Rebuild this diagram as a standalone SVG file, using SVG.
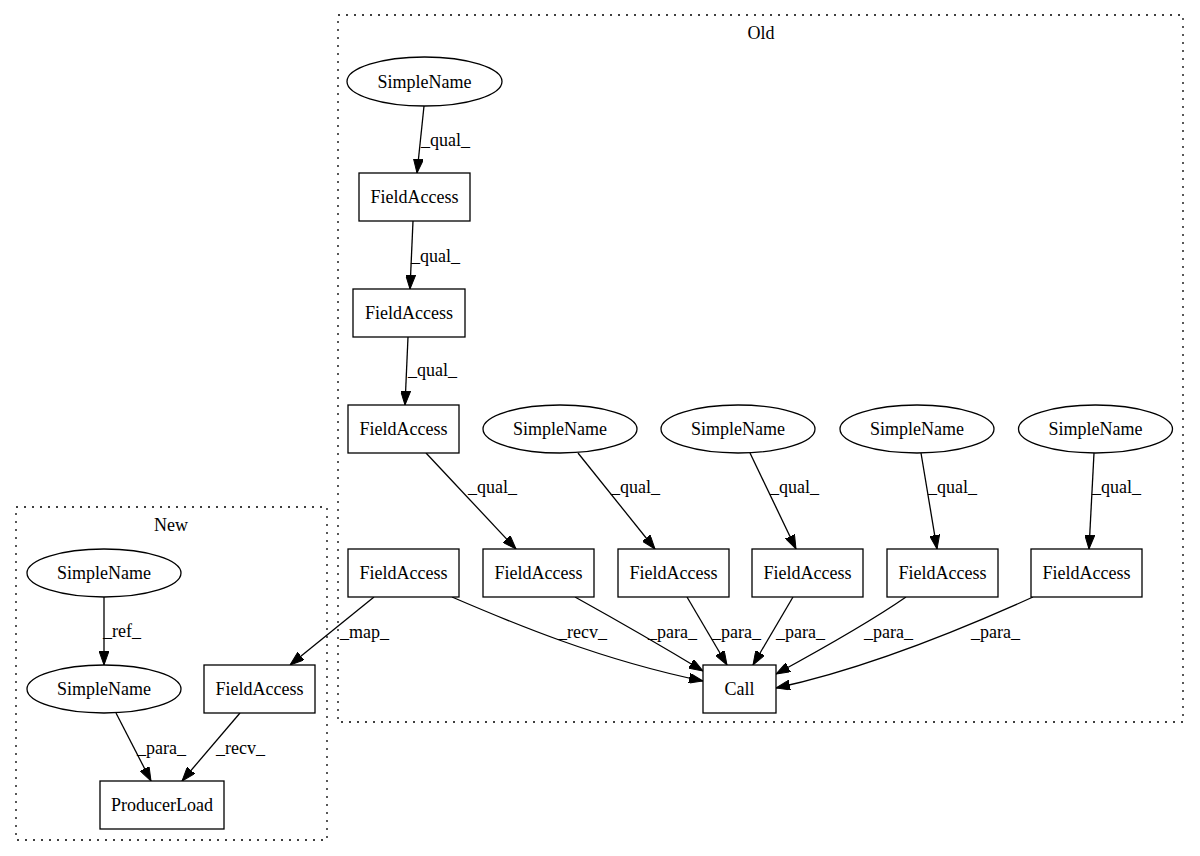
<svg xmlns="http://www.w3.org/2000/svg" width="1200" height="856" viewBox="0 0 1200 856">
<defs>
<marker id="ah" markerWidth="14" markerHeight="10" refX="14" refY="5" orient="auto" markerUnits="userSpaceOnUse">
<path d="M0,0 L14,5 L0,10 Z" fill="#000" stroke="#000"/>
</marker>
</defs>
<style>
text{font-family:"Liberation Serif","Times New Roman",serif;font-size:18px;fill:#000}
.n{text-anchor:middle}
.box{fill:#fff;stroke:#000;stroke-width:1.3}
.cl{fill:none;stroke:#000;stroke-width:1.3;stroke-dasharray:2,6}
.e{fill:none;stroke:#000;stroke-width:1.3;marker-end:url(#ah)}
</style>
<rect width="1200" height="856" fill="#fff"/>
<g id="cluster_old"><rect class="cl" x="338" y="15" width="845" height="707"/><text class="n" x="761" y="39">Old</text></g>
<g id="cluster_new"><rect class="cl" x="16" y="507" width="311" height="333"/><text class="n" x="171" y="531">New</text></g>
<g id="connectors">
<path class="e" d="M424,106 L417,173"/>
<path class="e" d="M413,221 L410,289"/>
<path class="e" d="M408,337 L405,405"/>
<path class="e" d="M426,453 L516,549"/>
<path class="e" d="M578,453 L655,549"/>
<path class="e" d="M750,453 L796,549"/>
<path class="e" d="M921,453 L937,549"/>
<path class="e" d="M1094,453 L1089,549"/>
<path class="e" d="M374,597 L290,665"/>
<path class="e" d="M452,597 C510,622 600,660 703,681"/>
<path class="e" d="M575,597 C620,622 665,648 703,671"/>
<path class="e" d="M687,597 L727,665"/>
<path class="e" d="M793,597 L753,665"/>
<path class="e" d="M906,597 C870,622 820,650 776,674"/>
<path class="e" d="M1033,597 C960,630 860,670 776,688"/>
<path class="e" d="M104,597 L104,665"/>
<path class="e" d="M116,713 L151,781"/>
<path class="e" d="M240,713 L182,781"/>
<text x="421" y="146">_qual_</text>
<text x="411" y="262">_qual_</text>
<text x="408" y="376">_qual_</text>
<text x="468" y="493">_qual_</text>
<text x="611" y="493">_qual_</text>
<text x="770" y="493">_qual_</text>
<text x="928" y="493">_qual_</text>
<text x="1092" y="493">_qual_</text>
<text x="340" y="638">_map_</text>
<text x="558" y="638">_recv_</text>
<text x="648" y="638">_para_</text>
<text x="712" y="638">_para_</text>
<text x="776" y="638">_para_</text>
<text x="864" y="638">_para_</text>
<text x="971" y="638">_para_</text>
<text x="103" y="637">_ref_</text>
<text x="137" y="754">_para_</text>
<text x="216" y="754">_recv_</text>
</g>
<g id="n_sn_top"><ellipse class="box" cx="424.5" cy="81.5" rx="77.5" ry="24.5"/><text class="n" x="424.5" y="87.5">SimpleName</text></g>
<g id="n_fa1"><rect class="box" x="359" y="173" width="111" height="48"/><text class="n" x="414.5" y="203">FieldAccess</text></g>
<g id="n_fa2"><rect class="box" x="353" y="289" width="112" height="48"/><text class="n" x="409" y="319">FieldAccess</text></g>
<g id="n_fa3"><rect class="box" x="348" y="405" width="111" height="48"/><text class="n" x="403.5" y="435">FieldAccess</text></g>
<g id="n_sn2"><ellipse class="box" cx="560" cy="429" rx="77" ry="24"/><text class="n" x="560" y="435">SimpleName</text></g>
<g id="n_sn3"><ellipse class="box" cx="738" cy="429" rx="77" ry="24"/><text class="n" x="738" y="435">SimpleName</text></g>
<g id="n_sn4"><ellipse class="box" cx="917" cy="429" rx="77" ry="24"/><text class="n" x="917" y="435">SimpleName</text></g>
<g id="n_sn5"><ellipse class="box" cx="1095.5" cy="429" rx="77" ry="24"/><text class="n" x="1095.5" y="435">SimpleName</text></g>
<g id="n_fa_a"><rect class="box" x="348" y="549" width="111" height="48"/><text class="n" x="403.5" y="579">FieldAccess</text></g>
<g id="n_fa_b"><rect class="box" x="483" y="549" width="111" height="48"/><text class="n" x="538.5" y="579">FieldAccess</text></g>
<g id="n_fa_c"><rect class="box" x="618" y="549" width="111" height="48"/><text class="n" x="673.5" y="579">FieldAccess</text></g>
<g id="n_fa_d"><rect class="box" x="752" y="549" width="111" height="48"/><text class="n" x="807.5" y="579">FieldAccess</text></g>
<g id="n_fa_e"><rect class="box" x="887" y="549" width="111" height="48"/><text class="n" x="942.5" y="579">FieldAccess</text></g>
<g id="n_fa_f"><rect class="box" x="1031" y="549" width="111" height="48"/><text class="n" x="1086.5" y="579">FieldAccess</text></g>
<g id="n_call"><rect class="box" x="703" y="665" width="73" height="48"/><text class="n" x="739.5" y="695">Call</text></g>
<g id="n_new_sn1"><ellipse class="box" cx="104" cy="573" rx="77" ry="24"/><text class="n" x="104" y="579">SimpleName</text></g>
<g id="n_new_sn2"><ellipse class="box" cx="104" cy="689" rx="77" ry="24"/><text class="n" x="104" y="695">SimpleName</text></g>
<g id="n_new_fa"><rect class="box" x="204" y="665" width="111" height="48"/><text class="n" x="259.5" y="695">FieldAccess</text></g>
<g id="n_producerload"><rect class="box" x="100" y="781" width="124" height="48"/><text class="n" x="162" y="811">ProducerLoad</text></g>
</svg>
